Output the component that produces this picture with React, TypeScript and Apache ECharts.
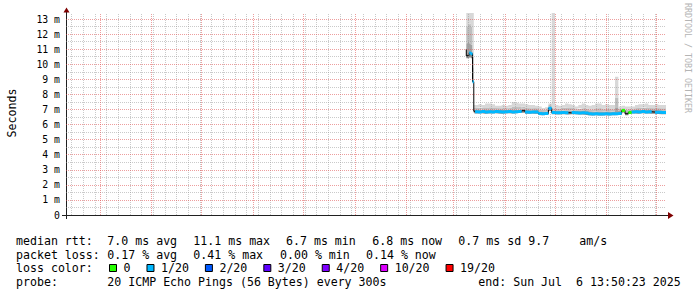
import React, { useEffect, useRef } from 'react';
import * as echarts from 'echarts';

const FONT = 'DejaVu Sans Mono';
const DAY = 86400000;
const END_TIME = Date.UTC(2025, 6, 6, 13, 50, 23);
const START_TIME = END_TIME - 360 * DAY;

// x-axis labels (rrdtool centres them mid-month)
const xLabelDates = ['2024-07-16', '2024-09-16', '2024-11-16', '2025-01-16', '2025-03-16', '2025-05-16'];
const xLabelTexts = ['July 2024', 'September 2024', 'November 2024', 'January 2025', 'March 2025', 'May 2025'];
// major (monthly) vertical grid lines
const monthGridDates = ['2024-08-01', '2024-09-01', '2024-10-01', '2024-11-01', '2024-12-01', '2025-01-01',
  '2025-02-01', '2025-03-01', '2025-04-01', '2025-05-01', '2025-06-01', '2025-07-01'];
// first minor (weekly) vertical grid line
const firstWeekGrid = '2024-07-15';
// y grid
const yMajorGrid = [1, 2, 3, 4, 5, 6, 7, 8, 9, 10, 11, 12, 13];
const yMinorGrid = [0.5, 1.5, 2.5, 3.5, 4.5, 5.5, 6.5, 7.5, 8.5, 9.5, 10.5, 11.5, 12.5];

// sample times
const earlyTimes = ['2025-03-08T18:00:00Z', '2025-03-09T12:00:00Z', '2025-03-10T12:00:00Z',
  '2025-03-11T12:00:00Z', '2025-03-12T12:00:00Z', '2025-03-13T06:00:00Z'];
const regularStart = '2025-03-14T00:00:00Z';
const regularStepDays = 2;
const regularCount = 57;

// values in ms
const median = [
  11.0, 10.55, 10.6, 10.75, 10.7, 8.84,
  6.88, 6.85, 6.84, 6.86, 6.83, 6.85, 6.84, 6.86, 6.85, 6.83,
  6.85, 6.86, 6.84, 6.85, 6.87, 6.92, 6.83, 6.82, 6.84, 6.83,
  6.74, 6.72, 6.73, 7.08, 6.80, 6.79, 6.78, 6.80, 6.79, 6.78,
  6.80, 6.79, 6.77, 6.78, 6.76, 6.71, 6.70, 6.71, 6.70, 6.70,
  6.71, 6.70, 6.71, 6.72, 6.74, 6.93, 6.72, 6.80, 6.84, 6.85,
  6.83, 6.86, 6.84, 6.85, 6.83, 6.82, 6.81, 6.80,
];
const smokeMin = [
  10.6, 10.4, 10.4, 10.45, 10.4, 8.8,
  6.76, 6.74, 6.73, 6.75, 6.72, 6.74, 6.73, 6.75, 6.74, 6.72,
  6.74, 6.75, 6.73, 6.74, 6.76, 6.78, 6.72, 6.71, 6.73, 6.72,
  6.64, 6.62, 6.63, 6.90, 6.69, 6.68, 6.67, 6.69, 6.68, 6.67,
  6.69, 6.68, 6.66, 6.67, 6.65, 6.61, 6.60, 6.61, 6.60, 6.60,
  6.61, 6.60, 6.61, 6.62, 6.63, 6.80, 6.62, 6.69, 6.73, 6.74,
  6.72, 6.75, 6.73, 6.74, 6.72, 6.71, 6.70, 6.69,
];
const smokeQ3 = [
  11.6, 11.4, 11.5, 11.4, 11.3, 9.8,
  7.00, 6.98, 6.97, 7.00, 6.96, 6.98, 6.97, 6.99, 6.98, 6.96,
  6.98, 7.00, 6.98, 6.99, 7.02, 7.05, 6.96, 6.95, 6.97, 6.96,
  6.88, 6.86, 6.87, 7.20, 6.94, 6.93, 6.92, 6.94, 6.93, 6.92,
  6.94, 6.93, 6.91, 6.92, 6.90, 6.86, 6.85, 6.86, 6.85, 6.85,
  6.86, 6.85, 6.86, 7.10, 6.90, 7.05, 6.88, 6.95, 6.98, 6.99,
  6.97, 7.00, 6.98, 6.99, 6.97, 6.96, 6.95, 6.94,
];
const smokeQ9 = [
  12.6, 12.5, 12.6, 12.7, 12.5, 10.5,
  7.12, 7.10, 7.12, 7.14, 7.10, 7.15, 7.12, 7.10, 7.08, 7.10,
  7.08, 7.12, 7.20, 7.18, 7.15, 7.18, 7.10, 7.08, 7.10, 7.08,
  7.00, 6.98, 7.00, 7.30, 7.08, 7.06, 7.05, 7.10, 7.12, 7.10,
  7.08, 7.02, 7.06, 7.10, 7.05, 7.00, 7.02, 7.08, 7.10, 7.02,
  7.05, 7.02, 7.02, 7.80, 7.05, 7.12, 7.00, 7.06, 7.08, 7.10,
  7.10, 7.12, 7.15, 7.10, 7.08, 7.10, 7.08, 7.08,
];
const smokeMax = [
  14, 14, 14, 14, 14, 14,
  7.30, 7.30, 7.35, 7.30, 7.40, 7.40, 7.35, 7.25, 7.25, 7.30,
  7.25, 7.30, 7.50, 7.45, 7.40, 7.40, 7.35, 7.30, 7.30, 7.25,
  7.20, 7.10, 7.15, 7.40, 14.0, 7.30, 7.25, 7.30, 7.40, 7.35,
  7.30, 7.20, 7.30, 7.40, 7.30, 7.25, 7.30, 7.40, 7.40, 7.30,
  7.35, 7.30, 7.30, 9.17, 7.20, 7.25, 7.20, 7.20, 7.20, 7.30,
  7.35, 7.35, 7.40, 7.30, 7.30, 7.35, 7.30, 7.30,
];
// loss bucket of each sample interval ('' = not shown in colour, only the dark median line)
const lossBucket = [
  '1/20', '', '', '1/20', '1/20', '1/20',
  '', '1/20', '1/20', '1/20', '1/20', '1/20', '1/20', '1/20', '1/20', '1/20',
  '1/20', '1/20', '1/20', '1/20', '1/20', '', '1/20', '1/20', '1/20', '1/20',
  '1/20', '1/20', '1/20', '1/20', '1/20', '1/20', '1/20', '1/20', '1/20', '',
  '1/20', '1/20', '1/20', '1/20', '1/20', '1/20', '1/20', '1/20', '1/20', '1/20',
  '1/20', '1/20', '1/20', '1/20', '1/20', '0', '', '0', '1/20', '1/20',
  '1/20', '1/20', '1/20', '1/20', '', '1/20', '1/20', '1/20',
];
const lossNames = ['0', '1/20', '2/20', '3/20', '4/20', '10/20', '19/20'];
const lossColors = ['#26ff00', '#00b8ff', '#0059ff', '#5e00ff', '#7e00ff', '#dd00ff', '#ff0000'];
const smokeColors = ['#858585', '#a2a2a2', '#bebebe', '#d8d8d8'];

const statLines = [
  [['median rtt:', 16], ['7.0 ms avg', 107.3], ['11.1 ms max', 193.3], ['6.7 ms min', 286], ['6.8 ms now', 372.3], ['0.7 ms sd', 458.3], ['9.7', 528.3], ['am/s', 579.3]],
  [['packet loss:', 16], ['0.17 % avg', 107.3], ['0.41 % max', 193.3], ['0.00 % min', 280], ['0.14 % now', 366]],
  [['loss color:', 16]],
  [['probe:', 16], ['20 ICMP Echo Pings (56 Bytes) every 300s', 107.3], ['end: Sun Jul  6 13:50:23 2025', 478.3]],
];
const statLineY = [241, 254.7, 268.4, 282.1];

export default function App() {
  const ref = useRef<HTMLDivElement>(null);
  useEffect(() => {
    if (!ref.current) return;
    const chart = echarts.init(ref.current, null, { renderer: 'svg' });

    const times: number[] = [
      ...earlyTimes.map((s) => Date.parse(s)),
      ...Array.from({ length: regularCount }, (_, k) => Date.parse(regularStart) + k * regularStepDays * DAY),
      END_TIME,
    ];
    const weekGrid: number[] = [];
    for (let t = Date.parse(firstWeekGrid + 'T00:00:00Z'); t < END_TIME; t += 7 * DAY) weekGrid.push(t);
    const monthGrid = monthGridDates.map((d) => Date.parse(d + 'T00:00:00Z'));

    const gridSeries = (name: string, color: string, z: number, data: any[]) => ({
      name, type: 'line', data: [], z, silent: true,
      markLine: {
        silent: true, symbol: ['none', 'none'], label: { show: false }, animation: false,
        lineStyle: { color, type: [1, 1], width: 1 },
        emphasis: { disabled: true },
        data,
      },
    });

    const smokeUpper = [median, smokeQ3, smokeQ9, smokeMax];
    const smokeLower = [smokeMin, median, smokeQ3, smokeQ9];
    const smokeSeries: any[] = [
      {
        name: 'smoke-base', type: 'line', stack: 'smoke', step: 'start', z: 3, silent: true,
        symbol: 'none', lineStyle: { width: 0, opacity: 0 },
        data: times.map((t, i) => [t, smokeMin[i]]),
      },
      ...smokeUpper.map((up, j) => ({
        name: 'smoke-' + j, type: 'line', stack: 'smoke', step: 'start', z: 3, silent: true,
        symbol: 'none', lineStyle: { width: 0, opacity: 0 },
        areaStyle: { color: smokeColors[j], opacity: 1 },
        data: times.map((t, i) => [t, up[i] - smokeLower[j][i]]),
      })),
    ];

    // each sample covers the interval (t[i-1], t[i]]; coloured by its loss bucket
    const lossSeries = lossNames.map((name, j) => {
      const pts: any[] = [];
      for (let i = 1; i < times.length; i++) {
        if (lossBucket[i] !== name) continue;
        pts.push([times[i - 1], median[i]], [times[i], median[i]], [times[i], null]);
      }
      return {
        name, type: 'line', z: 5, silent: true, symbol: 'none',
        color: lossColors[j],
        lineStyle: { color: lossColors[j], width: 3, cap: 'butt' },
        itemStyle: { color: lossColors[j] },
        data: pts,
      };
    });

    const graphic: any[] = [];
    statLines.forEach((line, li) => {
      line.forEach(([text, x]) => {
        graphic.push({
          type: 'text', x, y: statLineY[li], silent: true,
          style: { text, fontFamily: FONT, fontSize: 11.6, fill: '#000', align: 'left', verticalAlign: 'middle', textAlign: 'left', textVerticalAlign: 'middle' },
        });
      });
    });
    graphic.push(
      {
        type: 'text', x: 11.5, y: 113, rotation: Math.PI / 2, silent: true,
        style: { text: 'Seconds', fontFamily: FONT, fontSize: 11.6, fill: '#000', align: 'center', verticalAlign: 'middle', textAlign: 'center', textVerticalAlign: 'middle' },
      },
      {
        type: 'text', x: 687.5, y: 58, rotation: -Math.PI / 2, silent: true,
        style: { text: 'RRDTOOL / TOBI OETIKER', fontFamily: FONT, fontSize: 8.3, fill: '#b4b4b4', align: 'center', verticalAlign: 'middle', textAlign: 'center', textVerticalAlign: 'middle' },
      },
      { type: 'line', silent: true, shape: { x1: 62, y1: 215.5, x2: 66, y2: 215.5 }, style: { stroke: '#202020', lineWidth: 1 } },
      { type: 'line', silent: true, shape: { x1: 666, y1: 215.5, x2: 669, y2: 215.5 }, style: { stroke: '#202020', lineWidth: 1 } },
      { type: 'line', silent: true, shape: { x1: 66.5, y1: 215, x2: 66.5, y2: 219 }, style: { stroke: '#202020', lineWidth: 1 } },
      { type: 'line', silent: true, shape: { x1: 66.5, y1: 13, x2: 66.5, y2: 10 }, style: { stroke: '#202020', lineWidth: 1 } },
      { type: 'polygon', silent: true, shape: { points: [[668, 212], [673.5, 215.5], [668, 219]] }, style: { fill: '#7f0000' } },
      { type: 'polygon', silent: true, shape: { points: [[63.5, 12.5], [66.5, 7.5], [69.5, 12.5]] }, style: { fill: '#7f0000' } },
    );

    const option: any = {
      animation: false,
      backgroundColor: '#ffffff',
      textStyle: { fontFamily: FONT },
      grid: { left: 66, right: 31, top: 13, bottom: 82, containLabel: false },
      xAxis: {
        type: 'time', min: START_TIME, max: END_TIME,
        axisLine: { show: true, lineStyle: { color: '#202020', width: 1 } },
        axisTick: { show: false }, axisLabel: { show: false }, splitLine: { show: false },
        minorTick: { show: false }, minorSplitLine: { show: false },
      },
      yAxis: {
        type: 'value', min: 0, max: 13.4, interval: 1,
        axisLine: { show: true, lineStyle: { color: '#202020', width: 1 } },
        axisTick: { show: false },
        splitLine: { show: false },
        axisLabel: {
          show: true, showMaxLabel: false, margin: 6, color: '#000', fontFamily: FONT, fontSize: 9.8,
          formatter: (v: number) => (v === 0 ? '0' : v + ' m'),
        },
      },
      legend: {
        data: lossNames, left: 109, top: 262, orient: 'horizontal', icon: 'rect',
        itemWidth: 7, itemHeight: 7, itemGap: 16, selectedMode: false, padding: 0,
        itemStyle: { borderColor: '#000', borderWidth: 1 },
        textStyle: { fontFamily: FONT, fontSize: 11.6, color: '#000', padding: [0, 0, 0, 2] },
      },
      graphic,
      series: [
        gridSeries('grid-minor-x', 'rgba(150,150,150,0.5)', 1, weekGrid.map((t) => ({ xAxis: t }))),
        gridSeries('grid-minor-y', 'rgba(150,150,150,0.5)', 1, yMinorGrid.map((v) => ({ yAxis: v }))),
        gridSeries('grid-major-x', 'rgba(222,79,79,0.55)', 2, monthGrid.map((t) => ({ xAxis: t }))),
        gridSeries('grid-major-y', 'rgba(222,79,79,0.55)', 2, yMajorGrid.map((v) => ({ yAxis: v }))),
        ...smokeSeries,
        {
          name: 'median', type: 'line', step: 'start', z: 4, silent: true, symbol: 'none',
          lineStyle: { color: '#000', width: 1 },
          data: times.map((t, i) => [t, median[i]]),
        },
        ...lossSeries,
        {
          name: 'x-labels', type: 'scatter', z: 6, silent: true, clip: false,
          symbolSize: 0, itemStyle: { opacity: 0 },
          label: {
            show: true, position: 'bottom', distance: 5, formatter: '{b}',
            fontFamily: FONT, fontSize: 9.8, color: '#000',
          },
          data: xLabelDates.map((d, i) => ({ name: xLabelTexts[i], value: [Date.parse(d + 'T00:00:00Z'), 0] })),
        },
      ],
    };
    chart.setOption(option);
    return () => chart.dispose();
  }, []);

  return (
    <div
      ref={ref}
      style={{ position: 'fixed', left: 0, top: 0, width: 697, height: 297, background: '#fff' }}
    />
  );
}
